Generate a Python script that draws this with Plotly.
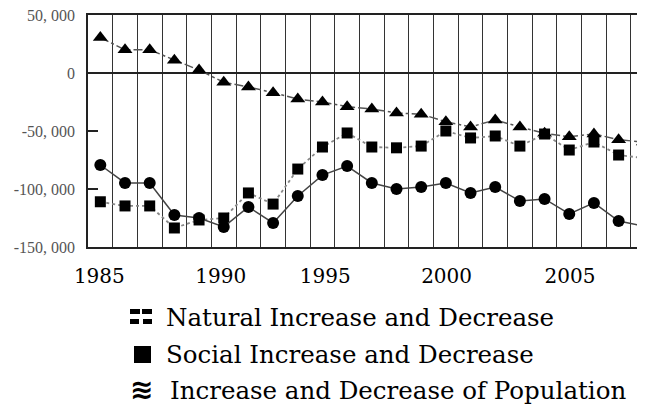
import plotly.graph_objects as go

years = list(range(1985, 2008))
natural = [30500, 20000, 20000, 11000, 2500, -8000, -12000, -17000, -22500, -25000,
           -29000, -31000, -34500, -35500, -42000, -46500, -40500, -46500, -52000,
           -55000, -52500, -57500, -59500]
social = [-111000, -114600, -114600, -133600, -126700, -125000, -103400, -113000,
          -82800, -63800, -51700, -63800, -64500, -63000, -50000, -56000, -54300,
          -63000, -52600, -66400, -59500, -70700, -73300]
population = [-79300, -94800, -94800, -122400, -125000, -132700, -115500, -129300,
              -106000, -88000, -80200, -94800, -100000, -98300, -94800, -103400,
              -98300, -110300, -108600, -121500, -112000, -127600, -131900]

x_tick_labels = ["1985", "1990", "1995", "2000", "2005"]
y_tick_values = [50000, 0, -50000, -100000, -150000]
y_tick_labels = ["50, 000", "0", "-50, 000", "-100, 000", "-150, 000"]
legend_labels = ["Natural Increase and Decrease",
                 "Social Increase and Decrease",
                 "Increase and Decrease of Population"]

# layout constants (page pixels; the page body adds an 8px offset)
OFF = 8
PW, PH = 645, 416
L, T, B = 88, 15, 247
W, H = PW - OFF, PH - OFF
x_tick_pos = [1984.96, 1989.88, 1994.11, 1999.03, 2004.03]
x_range = [1984.5, 1984.5 + (PW - L) / 24.68]

fig = go.Figure()
fig.add_trace(go.Scatter(x=years, y=natural, mode="lines+markers",
                         line=dict(color="#555", width=1.5, dash="dashdot"),
                         marker=dict(symbol="triangle-up", size=13, color="black"),
                         name=legend_labels[0]))
fig.add_trace(go.Scatter(x=years, y=social, mode="lines+markers",
                         line=dict(color="#888", width=1.8, dash="dot"),
                         marker=dict(symbol="square", size=11, color="black"),
                         name=legend_labels[1]))
fig.add_trace(go.Scatter(x=years, y=population, mode="lines+markers",
                         line=dict(color="#444", width=1.5),
                         marker=dict(symbol="circle", size=12, color="black"),
                         name=legend_labels[2]))

fig.update_layout(
    width=W, height=H,
    margin=dict(l=L - OFF, r=0, t=T - OFF, b=PH - B, pad=0, autoexpand=False),
    paper_bgcolor="white", plot_bgcolor="white",
    showlegend=False,
    xaxis=dict(range=x_range, tickvals=x_tick_pos, ticktext=x_tick_labels,
               automargin=False,
               showgrid=False, zeroline=False, ticks="",
               showline=True, linecolor="#222", linewidth=1.5, mirror=True,
               tickfont=dict(family="DejaVu Serif", size=20, color="black"),
               ticklabelstandoff=10,
               minor=dict(tick0=1984.5, dtick=1, showgrid=True,
                          gridcolor="#333", gridwidth=1.3, ticks="")),
    yaxis=dict(range=[-150000, 50000], tickvals=y_tick_values, ticktext=y_tick_labels,
               automargin=False, ticklabeloverflow="allow",
               showgrid=False, zeroline=True, zerolinecolor="#222", zerolinewidth=1.5,
               showline=True, linecolor="#222", linewidth=1.5, mirror=False,
               ticks="inside", ticklen=10, tickwidth=1.5, tickcolor="#222",
               tickfont=dict(family="Liberation Serif", size=16, color="#555"),
               ticklabelstandoff=8),
)

def px_to_paper(px, py):
    return (px - L) / (PW - L), (B - py) / (B - T)

def rect(x0, y0, x1, y1):
    a = px_to_paper(x0, y0)
    b = px_to_paper(x1, y1)
    fig.add_shape(type="rect", xref="paper", yref="paper",
                  x0=a[0], y0=a[1], x1=b[0], y1=b[1],
                  fillcolor="black", line=dict(width=0), layer="above")

# legend symbol 1: two rows of split bars
rect(130, 309, 140, 314)
rect(142, 309, 152, 314)
rect(130, 319, 139, 324)
rect(143, 319, 152, 324)
# legend symbol 2: filled square
rect(134, 346, 151, 363)
# legend symbol 3: squiggle glyph
sx, sy = px_to_paper(141, 389)
fig.add_annotation(x=sx, y=sy, xref="paper", yref="paper", text="<b>\u224B</b>",
                   showarrow=False, xanchor="center", yanchor="middle",
                   font=dict(family="DejaVu Sans", size=28, color="black"))

text_pos = [(164, 317), (164, 354), (168, 390)]
for i in range(3):
    tx, ty = px_to_paper(*text_pos[i])
    fig.add_annotation(x=tx, y=ty, xref="paper", yref="paper", text=legend_labels[i],
                       showarrow=False, xanchor="left", yanchor="middle",
                       font=dict(family="DejaVu Serif", size=24.5, color="black"))

fig.write_html("out.html")
